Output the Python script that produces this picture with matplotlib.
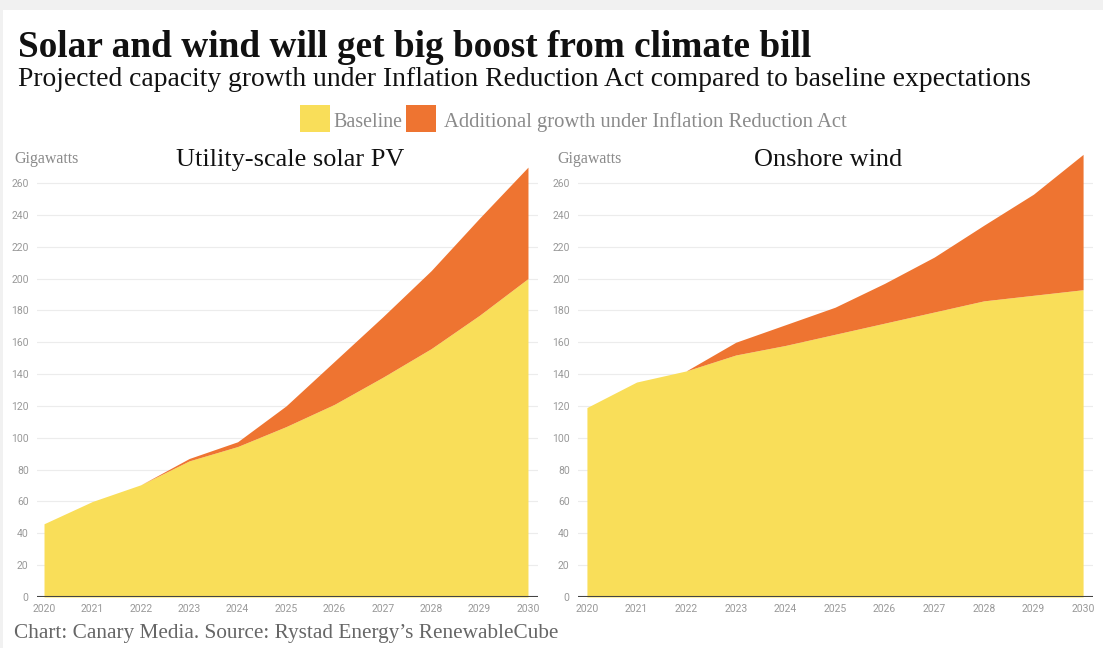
import matplotlib.pyplot as plt
import matplotlib.patches as patches

years = [2020, 2021, 2022, 2023, 2024, 2025, 2026, 2027, 2028, 2029, 2030]

# Utility-scale solar PV (GW)
solar_baseline = [46, 60, 70.5, 85.5, 94.5, 107, 121, 138, 156, 177, 200]
solar_total = [46, 60, 70.5, 87, 97.5, 120, 148, 176, 205, 238, 270]

# Onshore wind (GW)
wind_baseline = [119, 135, 142, 152, 158, 165, 172, 179, 186, 189.5, 193]
wind_total = [119, 135, 142, 160, 171, 182, 197, 213.5, 233.5, 253, 278]

yticks = [0, 20, 40, 60, 80, 100, 120, 140, 160, 180, 200, 220, 240, 260]

YELLOW = '#F9DE59'
ORANGE = '#EE7431'
GRAY = '#8a8a8a'
SERIF = ['Liberation Serif', 'DejaVu Serif']
SANS = ['Roboto', 'DejaVu Sans']

W, H = 1103, 648
fig = plt.figure(figsize=(W / 100, H / 100), dpi=100)
fig.patch.set_facecolor('#f1f1f1')
fig.patches.append(patches.Rectangle((3 / W, 0), 1, 1 - 10 / H, transform=fig.transFigure,
                                     facecolor='white', edgecolor='none', zorder=-10))


def px(x, y):
    return x / W, 1 - y / H


fig.text(*px(18, 57), 'Solar and wind will get big boost from climate bill',
         family=SERIF, fontsize=26.8, fontweight='bold', color='#111111', va='baseline')
fig.text(*px(18, 86), 'Projected capacity growth under Inflation Reduction Act compared to baseline expectations',
         family=SERIF, fontsize=19.9, color='#111111', va='baseline')

# legend
fig.patches.append(patches.Rectangle(px(300, 132), 30 / W, 27 / H, transform=fig.transFigure,
                                     facecolor=YELLOW, edgecolor='none'))
fig.text(*px(333, 127), 'Baseline', family=SERIF, fontsize=14.4, color=GRAY, va='baseline')
fig.patches.append(patches.Rectangle(px(406, 132), 30 / W, 27 / H, transform=fig.transFigure,
                                     facecolor=ORANGE, edgecolor='none'))
fig.text(*px(444, 127), 'Additional growth under Inflation Reduction Act',
         family=SERIF, fontsize=14.9, color=GRAY, va='baseline')

fig.text(*px(14, 638), "Chart: Canary Media. Source: Rystad Energy\u2019s RenewableCube",
         family=SERIF, fontsize=15.3, color='#666666', va='baseline')

panels = [
    ('Utility-scale solar PV', solar_baseline, solar_total, 37, 538, 2019.855, 2030.207, 14, 290),
    ('Onshore wind', wind_baseline, wind_total, 578, 1093, 2019.82, 2030.2, 557, 828),
]

bottom_px, top_px = 597, 151.2
for title, base, total, x0, x1, xmin, xmax, gx, tx in panels:
    ax = fig.add_axes([x0 / W, 1 - bottom_px / H, (x1 - x0) / W, (bottom_px - top_px) / H])
    ax.patch.set_alpha(0)
    ax.fill_between(years, 0, base, color=YELLOW, linewidth=0, zorder=2)
    ax.fill_between(years, base, total, color=ORANGE, linewidth=0, zorder=2)
    ax.set_xlim(xmin, xmax)
    ax.set_ylim(0, 280)
    ax.set_yticks(yticks)
    ax.set_xticks(years)
    ax.grid(axis='y', color='#ececec', linewidth=0.8, zorder=0)
    ax.axhline(0, color='#444444', linewidth=1.5, zorder=3)
    for s in ax.spines.values():
        s.set_visible(False)
    ax.tick_params(length=0, labelsize=7.5, labelcolor='#999999')
    ax.tick_params(axis='y', pad=6)
    ax.tick_params(axis='x', pad=5)
    for lab in ax.get_xticklabels() + ax.get_yticklabels():
        lab.set_family(SANS)
    fig.text(*px(gx, 163), 'Gigawatts', family=SERIF, fontsize=11.5, color=GRAY, va='baseline')
    fig.text(*px(tx, 166), title, family=SERIF, fontsize=18.9, color='#111111',
             va='baseline', ha='center')

fig.savefig('out.png', dpi=100, facecolor=fig.get_facecolor())
